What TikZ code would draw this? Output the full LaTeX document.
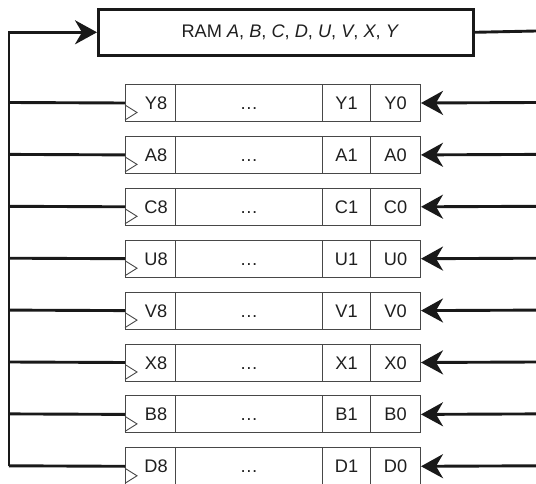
\documentclass[tikz,border=0pt]{standalone}
\usepackage{fontspec}
\setmainfont{Liberation Sans}
\usetikzlibrary{arrows.meta}
\begin{document}
\begin{tikzpicture}[x=1pt,y=-1pt,
  txt/.style={font=\fontsize{18.2}{21}\selectfont, text=black!88},
  cell/.style={txt, draw=black!72, line width=1pt, minimum height=37pt,
    inner sep=0pt, anchor=north west, text height=13pt, text depth=0pt},
  bus/.style={line width=2.9pt, black!90},
  tip/.style={-{Stealth[length=22pt,width=24pt,inset=7pt]}},
  clk/.style={draw=black!72, line width=0.9pt}]
\useasboundingbox (0,0) rectangle (536,484);

% shared memory block
\node[txt, draw=black!90, line width=2.6pt, minimum width=375pt, minimum height=46pt,
      anchor=north west, inner sep=0pt] (ram) at (97,8)
  {\hspace*{9pt}RAM \textit{A}, \textit{B}, \textit{C}, \textit{D}, \textit{U}, \textit{V}, \textit{X}, \textit{Y}};
\coordinate (rout) at (536,31);
\draw[bus] (ram.east) -- (rout);

% the eight 9-bit registers
\foreach \n [count=\i from 0] in {Y,A,C,U,V,X,B,D} {
  \pgfmathsetmacro\rtop{84+51.9*\i}
  \pgfmathsetmacro\rmid{\rtop+18.5}
  \node[cell, minimum width=50pt]  (hi\n)   at (125,\rtop) {\hspace*{11pt}\n8};
  \node[cell, minimum width=147pt] (dots\n) at (175,\rtop) {\dots};
  \node[cell, minimum width=48pt]  (one\n)  at (322,\rtop) {\n1};
  \node[cell, minimum width=50pt]  (lo\n)   at (370,\rtop) {\n0};
  % clock input mark
  \draw[clk] (hi\n.south west) ++(0,-17) -- ++(12,7.5) -- ++(-12,7.5);
  % serial input from the right, parallel tap to the bus on the left
  \coordinate (rin\n) at (536,\rmid);
  \coordinate (lin\n) at (9,\rmid);
  \draw[bus,tip] (rin\n) -- (lo\n.east);
  \draw[bus] (lin\n) -- (hi\n.west);
}

% common bus back to the memory
\draw[bus,tip] (linD) |- (ram.west);
\end{tikzpicture}
\end{document}
